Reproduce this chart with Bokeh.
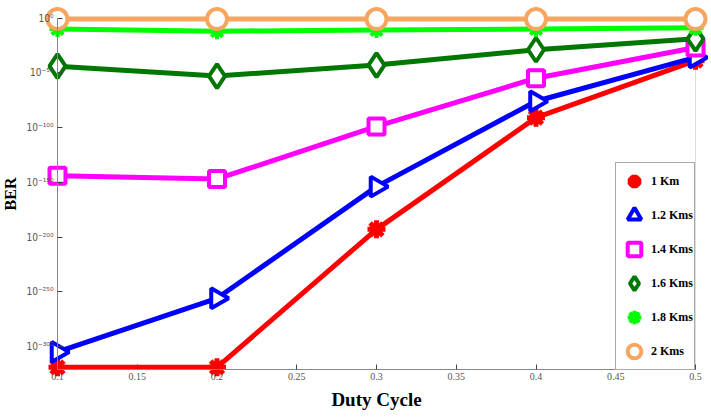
import numpy as np
from bokeh.plotting import figure
from bokeh.models import FixedTicker, Legend, LegendItem, Range1d, BoxAnnotation, ColumnDataSource
from bokeh.embed import file_html
from bokeh.resources import INLINE

# Duty cycle values
duty_cycle = [0.1, 0.2, 0.3, 0.4, 0.5]

# BER values as base-10 exponents (BER = 10**exponent)
ber_1km = [-319, -319, -193, -91, -39]
ber_1_2km = [-305, -256, -154, -76, -36]
ber_1_4km = [-144, -147, -99, -55, -27]
ber_1_6km = [-44, -53, -43, -29, -19]
ber_1_8km = [-10, -12, -11, -10, -9]
ber_2km = [-1, -1, -1, -1, -1]

series_names = ["1 Km", "1.2 Kms", "1.4 Kms", "1.6 Kms", "1.8 Kms", "2 Kms"]

y_ticks = [-300, -250, -200, -150, -100, -50, 0]
y_tick_labels = ["10\u207b\u00b3\u2070\u2070", "10\u207b\u00b2\u2075\u2070", "10\u207b\u00b2\u2070\u2070",
                 "10\u207b\u00b9\u2075\u2070", "10\u207b\u00b9\u2070\u2070", "10\u207b\u2075\u2070", "10\u2070"]
x_ticks = [0.1, 0.15, 0.2, 0.25, 0.3, 0.35, 0.4, 0.45, 0.5]
x_tick_labels = ["0.1", "0.15", "0.2", "0.25", "0.3", "0.35", "0.4", "0.45", "0.5"]

X0, X1 = 0.1, 0.5
Y0, Y1 = -321, 0
# pixel geometry of the axes box inside the 711x417 canvas
px_left, px_right, px_top, px_bottom = 57, 695, 17.5, 369
sx = (px_right - px_left) / (X1 - X0)
sy = (px_bottom - px_top) / (Y1 - Y0)
xr = Range1d(X0 - px_left / sx, X1 + (711 - px_right) / sx)
yr = Range1d(Y0 - (417 - px_bottom) / sy, Y1 + px_top / sy)

p = figure(width=711, height=417, output_backend="svg", toolbar_location=None,
           x_range=xr, y_range=yr,
           min_border_left=0, min_border_right=0, min_border_top=0, min_border_bottom=0)
p.xgrid.visible = False
p.ygrid.visible = False
p.outline_line_color = None
p.background_fill_color = "white"
p.border_fill_color = "white"

box = BoxAnnotation(left=X0, right=X1, bottom=Y0, top=Y1, fill_alpha=0,
                    line_color="#8a8a8a", line_width=1, level="underlay")
p.add_layout(box)
topline = BoxAnnotation(left=X0, right=X1, bottom=Y1, top=Y1, fill_alpha=0,
                        line_color="#222222", line_width=1.5, level="underlay")
p.add_layout(topline)

styles = [
    dict(color="#ff0000", marker="asterisk", size=18, lw=5),
    dict(color="#0000ff", marker="triangle", size=20, lw=4, angle=-np.pi / 2),
    dict(color="#ff00ff", marker="square", size=16, lw=4),
    dict(color="#007700", marker="diamond", size=24, lw=4),
    dict(color="#00ff00", marker="asterisk", size=16, lw=4),
    dict(color="#f7a660", marker="circle", size=20, lw=4),
]
data = [ber_1km, ber_1_2km, ber_1_4km, ber_1_6km, ber_1_8km, ber_2km]

items = []
for name, ys, st in zip(series_names, data, styles):
    p.line(duty_cycle, ys, line_color=st["color"], line_width=5)
    src = ColumnDataSource(dict(x=duty_cycle, y=ys,
                                ang=[st.get("angle", 0.0)] * len(duty_cycle)))
    r = p.scatter("x", "y", source=src, marker=st["marker"], size=st["size"],
                  line_color=st["color"], line_width=st["lw"], angle="ang",
                  fill_color="white" if st["marker"] != "asterisk" else st["color"])
    items.append(LegendItem(label=name, renderers=[r], index=0))

legend = Legend(items=items, location=(615, 47),
                label_text_font="Liberation Serif", label_text_font_style="bold",
                label_text_font_size="12px", label_text_color="black",
                glyph_width=34, glyph_height=34, spacing=0, padding=1, margin=0,
                label_standoff=0, border_line_color="#555555", border_line_width=1,
                background_fill_alpha=1.0)
p.add_layout(legend, "center")

# Axes placed at the edges of the data box
p.xaxis.fixed_location = Y0
p.yaxis.fixed_location = X0
p.xaxis.bounds = (X0, X1)
p.yaxis.bounds = (Y0, Y1)
p.xaxis.ticker = FixedTicker(ticks=x_ticks)
p.xaxis.major_label_overrides = {t: l for t, l in zip(x_ticks, x_tick_labels)}
p.yaxis.ticker = FixedTicker(ticks=y_ticks)
p.yaxis.major_label_overrides = {t: l for t, l in zip(y_ticks, y_tick_labels)}
for ax in (p.xaxis[0], p.yaxis[0]):
    ax.axis_line_color = "#888888"
    ax.major_tick_line_color = "#444444"
    ax.major_tick_in = 5
    ax.major_tick_out = 0
    ax.minor_tick_line_color = None
    ax.major_label_text_color = "#555555"
    ax.axis_label_text_font = "Liberation Serif"
    ax.axis_label_text_font_style = "bold"
    ax.axis_label_text_color = "black"
p.xaxis.major_label_text_font = "Liberation Sans Narrow"
p.xaxis.major_label_text_font_size = "10px"
p.yaxis.major_label_text_font = "DejaVu Sans Condensed"
p.yaxis.major_label_text_font_size = "10px"
p.xaxis.axis_label = "Duty Cycle"
p.xaxis.axis_label_text_font_size = "19px"
p.xaxis.axis_label_standoff = 6
p.xaxis.major_label_standoff = 3
p.yaxis.axis_label = "BER"
p.yaxis.axis_label_text_font_size = "16px"
p.yaxis.axis_label_standoff = 4
p.yaxis.major_label_standoff = 4

open("out.html", "w").write(file_html(p, INLINE))
